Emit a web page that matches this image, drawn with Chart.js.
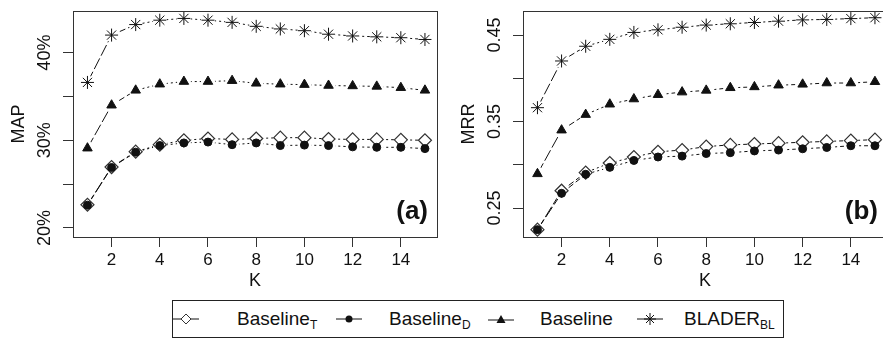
<!DOCTYPE html>
<html>
<head>
<meta charset="utf-8">
<script src="https://cdn.jsdelivr.net/npm/chart.js@4.4.1/dist/chart.umd.min.js"></script>
<style>
  body { margin: 0; width: 883px; height: 345px; overflow: hidden; background: #fff; position: relative;
         font-family: "Liberation Sans", Arial, sans-serif; }
  .panel { position: absolute; top: 0; width: 450px; height: 300px; }
  #legend { position: absolute; left: 172px; top: 300px; width: 612px; height: 38px;
            border: 1px solid #222; box-sizing: border-box; }
  .item { position: absolute; top: 0; height: 100%; display: flex; align-items: center;
          font-size: 19px; color: #111; white-space: nowrap; }
  .item sub { font-size: 12px; vertical-align: -4px; line-height: 0; }
  .icon { position: absolute; top: 0; height: 100%; display: flex; align-items: center; }
</style>
</head>
<body>
<div class="panel" style="left:0"><canvas id="mapChart" width="450" height="300"></canvas></div>
<div class="panel" style="left:450px"><canvas id="mrrChart" width="450" height="300"></canvas></div>

<div id="legend">
  <div class="icon" style="left:0"><svg width="26" height="16"><line x1="0" y1="8" x2="26" y2="8" stroke="#111"/><path d="M13 3 L18 8 L13 13 L8 8 Z" fill="#fff" stroke="#333"/></svg></div>
  <div class="item" style="left:64px"><span>Baseline<sub>T</sub></span></div>
  <div class="icon" style="left:163px"><svg width="26" height="16"><line x1="0" y1="8" x2="26" y2="8" stroke="#111"/><circle cx="13" cy="8" r="3.5" fill="#111"/></svg></div>
  <div class="item" style="left:216px"><span>Baseline<sub>D</sub></span></div>
  <div class="icon" style="left:315px"><svg width="26" height="16"><line x1="0" y1="9" x2="26" y2="9" stroke="#111"/><path d="M13 4 L17.5 12 L8.5 12 Z" fill="#111"/></svg></div>
  <div class="item" style="left:367px"><span>Baseline</span></div>
  <div class="icon" style="left:464px"><svg width="26" height="16"><line x1="0" y1="8" x2="26" y2="8" stroke="#111"/><path d="M13 2 V14 M7 8 H19 M9 4 L17 12 M17 4 L9 12" stroke="#111" fill="none"/></svg></div>
  <div class="item" style="left:511px"><span>BLADER<sub>BL</sub></span></div>
</div>

<script>
// K values on the x axis
const kValues = [1, 2, 3, 4, 5, 6, 7, 8, 9, 10, 11, 12, 13, 14, 15];
const kTicks = [2, 4, 6, 8, 10, 12, 14];

// panel (a): MAP in %
const mapBaselineT = [22.65, 26.95, 28.7, 29.5, 30.0, 30.2, 30.1, 30.2, 30.3, 30.3, 30.15, 30.1, 30.1, 30.05, 30.0];
const mapBaselineD = [22.6, 26.9, 28.65, 29.4, 29.7, 29.8, 29.5, 29.7, 29.4, 29.45, 29.4, 29.25, 29.2, 29.2, 29.05];
const mapBaseline = [29.1, 34.0, 35.7, 36.4, 36.7, 36.7, 36.8, 36.5, 36.4, 36.35, 36.25, 36.2, 36.15, 36.0, 35.7];
const mapBlader = [36.6, 42.0, 43.2, 43.7, 43.9, 43.7, 43.45, 43.0, 42.7, 42.5, 42.1, 41.9, 41.8, 41.7, 41.5];
const mapTicks = [20, 25, 30, 35, 40];
const mapTickLabels = ["20%", "", "30%", "", "40%"];

// panel (b): MRR
const mrrBaselineT = [0.225, 0.270, 0.291, 0.302, 0.309, 0.315, 0.317, 0.321, 0.323, 0.324, 0.325, 0.326, 0.327, 0.328, 0.329];
const mrrBaselineD = [0.225, 0.267, 0.289, 0.297, 0.305, 0.309, 0.310, 0.313, 0.314, 0.316, 0.317, 0.3185, 0.320, 0.322, 0.322];
const mrrBaseline = [0.2895, 0.340, 0.358, 0.370, 0.376, 0.381, 0.384, 0.386, 0.389, 0.390, 0.392, 0.393, 0.3945, 0.3945, 0.396];
const mrrBlader = [0.366, 0.420, 0.437, 0.445, 0.453, 0.456, 0.459, 0.4615, 0.463, 0.4645, 0.466, 0.4675, 0.468, 0.469, 0.470];
const mrrTicks = [0.25, 0.30, 0.35, 0.40, 0.45];
const mrrTickLabels = ["0.25", "", "0.35", "", "0.45"];

const INK = "#111";

const markerStyles = [
  { style: "rectRot", radius: 6.5, fill: "#fff", stroke: "#333", bw: 1.2 },
  { style: "circle", radius: 4, fill: INK, stroke: INK, bw: 1 },
  { style: "triangle", radius: 5.5, fill: INK, stroke: INK, bw: 1 },
  { style: "star", radius: 6.5, fill: INK, stroke: INK, bw: 1 },
];

const frame = {
  id: "frame",
  afterDraw(chart, args, opts) {
    const { ctx, chartArea: a } = chart;
    ctx.save();
    ctx.strokeStyle = "#333";
    ctx.lineWidth = 1;
    ctx.strokeRect(Math.round(a.left) + 0.5, Math.round(a.top) + 0.5,
                   Math.round(a.right - a.left), Math.round(a.bottom - a.top));
    ctx.fillStyle = INK;
    ctx.font = "bold 26px 'Liberation Sans', Arial, sans-serif";
    ctx.textAlign = "right";
    ctx.textBaseline = "middle";
    ctx.fillText(opts.tag, a.right - 9, a.bottom - 25);
    ctx.restore();
  },
};

function makePanel(id, series, yMin, yMax, yTicks, yLabels, yTitle, tag) {
  const datasets = [];
  series.forEach((values, i) => {
    const m = markerStyles[i];
    const pts = kValues.map((k, j) => ({ x: k, y: values[j] }));
    datasets.push({
      data: pts, borderColor: INK, borderWidth: 1, pointRadius: 0, fill: false, order: 3,
      segment: {
        borderDash: (c) => (c.p0DataIndex === 0 ? [12, 3] : c.p0DataIndex === 1 ? [6, 3] : [2, 3, 4, 3]),
      },
    });
    datasets.push({
      data: pts, showLine: false, pointRadius: 7, pointStyle: "circle",
      pointBackgroundColor: "#fff", pointBorderWidth: 0, order: 2,
    });
    // later series sit on top of earlier ones
    datasets.push({
      data: pts, showLine: false, pointStyle: m.style, pointRadius: m.radius,
      pointBackgroundColor: m.fill, pointBorderColor: m.stroke, pointBorderWidth: m.bw, order: 1 - i * 0.1,
    });
  });

  return new Chart(document.getElementById(id), {
    type: "line",
    data: { datasets },
    options: {
      responsive: false,
      animation: false,
      devicePixelRatio: 1,
      layout: { padding: { top: 3, right: 13, left: 0, bottom: 0 } },
      plugins: { legend: { display: false }, tooltip: { enabled: false }, frame: { tag } },
      scales: {
        x: {
          type: "linear", min: 0.4, max: 15.5,
          afterBuildTicks: (s) => { s.ticks = kTicks.map((v) => ({ value: v })); },
          afterFit: (s) => { s.height = 63; },
          grid: { drawOnChartArea: false, tickLength: 10, color: "#333" },
          border: { display: false },
          ticks: { color: INK, font: { size: 17, family: "'Liberation Sans', Arial" }, padding: 3, maxRotation: 0 },
          title: { display: true, text: "K", color: INK, font: { size: 18, family: "'Liberation Sans', Arial" },
                   padding: { top: 0, bottom: 8 } },
        },
        y: {
          min: yMin, max: yMax,
          afterBuildTicks: (s) => { s.ticks = yTicks.map((v) => ({ value: v })); },
          afterFit: (s) => { s.width = 73; },
          grid: { drawOnChartArea: false, tickLength: 10, color: "#333" },
          border: { display: false },
          ticks: {
            color: INK, font: { size: 18, family: "'Liberation Sans', Arial" },
            minRotation: 90, maxRotation: 90, crossAlign: "center", padding: 0,
            callback: (v, idx) => yLabels[idx],
          },
          title: { display: true, text: yTitle, color: INK, font: { size: 18, family: "'Liberation Sans', Arial" },
                   padding: { top: 8, bottom: 0 } },
        },
      },
    },
    plugins: [frame],
  });
}

makePanel("mapChart", [mapBaselineT, mapBaselineD, mapBaseline, mapBlader],
          18.97, 44.77, mapTicks, mapTickLabels, "MAP", "(a)");
makePanel("mrrChart", [mrrBaselineT, mrrBaselineD, mrrBaseline, mrrBlader],
          0.2165, 0.478, mrrTicks, mrrTickLabels, "MRR", "(b)");
</script>
</body>
</html>
